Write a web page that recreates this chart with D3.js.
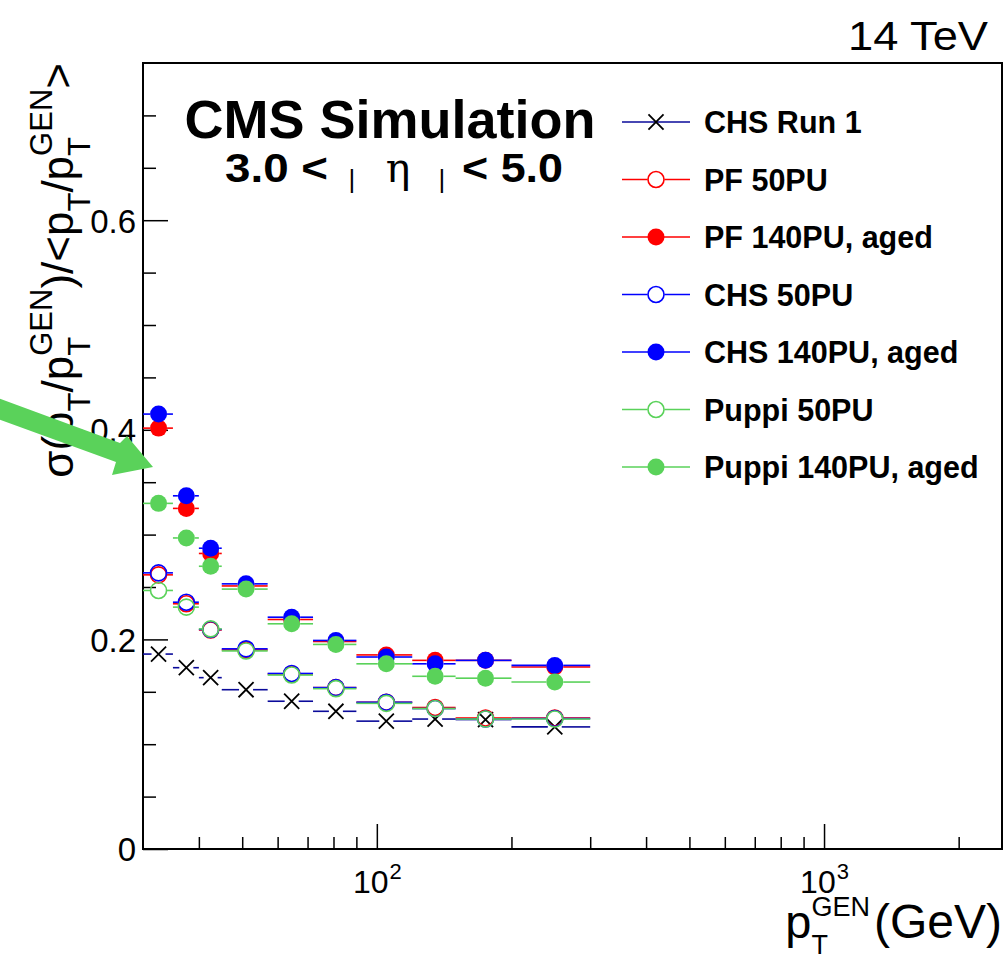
<!DOCTYPE html>
<html>
<head>
<meta charset="utf-8">
<script src="https://cdn.jsdelivr.net/npm/d3@7"></script>
<style>
  body { margin: 0; background: #fff; }
  svg { display: block; font-family: "Liberation Sans", Arial, Helvetica, sans-serif; }
</style>
</head>
<body>
<div id="chart"></div>
<script>
// pT bins (GeV) - markers sit at the bin centre, bars span the bin
const binEdges = [30, 35, 40, 45, 57, 72, 90, 120, 150, 200, 300];

// resolution per bin
const chsRun1  = [0.186, 0.173, 0.1635, 0.152, 0.141, 0.1314, 0.122, 0.124, 0.1235, 0.1165];
const pf50     = [0.2616, 0.234, 0.209, 0.190, 0.167, 0.154, 0.140, 0.135, 0.125, 0.125];
const pf140    = [0.4016, 0.325, 0.282, 0.251, 0.219, 0.198, 0.1852, 0.180, 0.180, 0.1737];
const chs50    = [0.2635, 0.2355, 0.2095, 0.191, 0.1675, 0.154, 0.140, 0.134, 0.124, 0.1245];
const chs140   = [0.415, 0.337, 0.287, 0.253, 0.2212, 0.199, 0.1832, 0.1767, 0.180, 0.1752];
const puppi50  = [0.2467, 0.2308, 0.210, 0.189, 0.166, 0.153, 0.139, 0.134, 0.124, 0.124];
const puppi140 = [0.3298, 0.2968, 0.2698, 0.248, 0.2149, 0.1952, 0.1767, 0.1648, 0.163, 0.1593];

const seriesNames = ['CHS Run 1', 'PF 50PU', 'PF 140PU, aged', 'CHS 50PU', 'CHS 140PU, aged', 'Puppi 50PU', 'Puppi 140PU, aged'];

const yMajorTicks = [0, 0.2, 0.4, 0.6];
const yMinorTicks = [0.05, 0.1, 0.15, 0.25, 0.3, 0.35, 0.45, 0.5, 0.55, 0.65, 0.7];
const xMajorTicks = [100, 1000];
const xMinorTicks = [40, 50, 60, 70, 80, 90, 200, 300, 400, 500, 600, 700, 800, 900, 2000];

const red = '#ff0000', blue = '#0000ff', green = '#5ad25a', navy = '#0a0a9a';

const series = [
    { name: seriesNames[0], values: chsRun1,  color: '#000000', barColor: navy,  marker: 'cross' },
    { name: seriesNames[1], values: pf50,     color: red,   barColor: red,   marker: 'open' },
    { name: seriesNames[2], values: pf140,    color: red,   barColor: red,   marker: 'full' },
    { name: seriesNames[3], values: chs50,    color: blue,  barColor: blue,  marker: 'open' },
    { name: seriesNames[4], values: chs140,   color: blue,  barColor: blue,  marker: 'full' },
    { name: seriesNames[5], values: puppi50,  color: green, barColor: green, marker: 'open' },
    { name: seriesNames[6], values: puppi140, color: green, barColor: green, marker: 'full' }
];

const W = 1007, H = 957;
const margin = { top: 63, right: 5, bottom: 108, left: 143 };
const width = W - margin.left - margin.right;
const height = H - margin.top - margin.bottom;

const svg = d3.select('#chart').append('svg')
    .attr('width', W)
    .attr('height', H);

const plot = svg.append('g')
    .attr('transform', `translate(${margin.left}, ${margin.top})`);

const x = d3.scaleLog().domain([30, 2500]).range([0, width]);
const y = d3.scaleLinear().domain([0, 0.75]).range([height, 0]);

const markerR = 8.5;

// bins as objects
const bins = d3.range(binEdges.length - 1).map(i => ({
    lo: binEdges[i], hi: binEdges[i + 1], c: (binEdges[i] + binEdges[i + 1]) / 2
}));

// Axes (ticks pointing inwards, ROOT style)
const yAxis = plot.append('g')
    .call(d3.axisLeft(y).tickValues(yMajorTicks).tickSizeInner(-25).tickSizeOuter(0).tickPadding(7)
        .tickFormat(d => d === 0 ? '0' : d3.format('.1f')(d)));
yAxis.select('.domain').remove();
yAxis.selectAll('.tick text').attr('font-size', 33).attr('font-family', null).attr('dy', '0.36em');
yAxis.selectAll('.tick line').attr('stroke-width', 1.5);

const yAxisMinor = plot.append('g')
    .call(d3.axisLeft(y).tickValues(yMinorTicks).tickSizeInner(-13).tickSizeOuter(0).tickFormat(''));
yAxisMinor.select('.domain').remove();
yAxisMinor.selectAll('.tick line').attr('stroke-width', 1.5);

const xAxis = plot.append('g')
    .attr('transform', `translate(0, ${height})`)
    .call(d3.axisBottom(x).tickValues(xMajorTicks).tickSizeInner(-25).tickSizeOuter(0).tickFormat(''));
xAxis.select('.domain').remove();
xAxis.selectAll('.tick line').attr('stroke-width', 1.5);
xAxis.selectAll('.tick').append('text')
    .attr('fill', '#000')
    .attr('y', 44)
    .attr('text-anchor', 'middle')
    .attr('font-size', 32)
    .each(function (d) {
        const t = d3.select(this);
        t.append('tspan').text('10');
        t.append('tspan').attr('dy', -14).attr('dx', 1).attr('font-size', 22).text(Math.round(Math.log10(d)));
    });

const xAxisMinor = plot.append('g')
    .attr('transform', `translate(0, ${height})`)
    .call(d3.axisBottom(x).tickValues(xMinorTicks).tickSizeInner(-12).tickSizeOuter(0).tickFormat(''));
xAxisMinor.select('.domain').remove();
xAxisMinor.selectAll('.tick line').attr('stroke-width', 1.5);

// frame
plot.append('rect')
    .attr('width', width).attr('height', height)
    .attr('fill', 'none').attr('stroke', '#000').attr('stroke-width', 2);

// marker drawing helper
function drawMarker(sel, type, color, r) {
    if (type === 'cross') {
        sel.append('path')
            .attr('d', d3.symbol(d3.symbolTimes, 150)())
            .attr('fill', 'none').attr('stroke', color).attr('stroke-width', 1.8);
    } else {
        sel.append('circle')
            .attr('r', type === 'full' ? r : r - 0.5)
            .attr('fill', type === 'full' ? color : 'none')
            .attr('stroke', color)
            .attr('stroke-width', type === 'full' ? 0 : 1.6);
    }
}

// data series
series.forEach(s => {
    const g = plot.append('g').attr('class', 'series');
    const pts = bins.map((b, i) => ({ ...b, v: s.values[i] }));
    const gap = s.marker === 'cross' ? 7 : markerR;

    g.selectAll('.bar-l').data(pts).enter().append('line')
        .attr('x1', d => x(d.lo)).attr('x2', d => Math.max(x(d.lo), x(d.c) - gap))
        .attr('y1', d => y(d.v)).attr('y2', d => y(d.v))
        .attr('stroke', s.barColor).attr('stroke-width', 1.6);
    g.selectAll('.bar-r').data(pts).enter().append('line')
        .attr('x1', d => x(d.c) + gap).attr('x2', d => x(d.hi))
        .attr('y1', d => y(d.v)).attr('y2', d => y(d.v))
        .attr('stroke', s.barColor).attr('stroke-width', 1.6);

    g.selectAll('.pt').data(pts).enter().append('g')
        .attr('transform', d => `translate(${x(d.c)}, ${y(d.v)})`)
        .each(function () { drawMarker(d3.select(this), s.marker, s.color, markerR); });
});

// legend
const legend = svg.append('g').attr('transform', 'translate(622, 122)');
series.forEach((s, i) => {
    const row = legend.append('g').attr('transform', `translate(0, ${i * 57.5})`);
    row.append('line').attr('x1', 0).attr('x2', 68).attr('stroke', s.barColor).attr('stroke-width', 1.6);
    const m = row.append('g').attr('transform', 'translate(34, 0)');
    if (s.marker === 'open') {
        m.append('rect').attr('x', -markerR).attr('y', -markerR).attr('width', 2 * markerR).attr('height', 2 * markerR).attr('fill', '#fff');
    }
    drawMarker(m, s.marker, s.color, markerR);
    row.append('text')
        .attr('x', 82).attr('y', 11)
        .attr('font-size', 30.5).attr('font-weight', 'bold')
        .text(s.name);
});

// lays out text pieces with sub/superscripts, returns the group
function richText(parent, parts, anchor) {
    const g = parent.append('g');
    let cx = 0, prevX = 0;
    parts.forEach(p => {
        const el = g.append('text')
            .attr('font-size', p.size)
            .attr('font-weight', p.weight || 'normal')
            .text(p.t);
        if (p.family) el.attr('font-family', p.family);
        const w = el.node().getComputedTextLength();
        let px;
        if (p.stack) { px = prevX; cx = Math.max(cx, prevX + w); }
        else { px = cx + (p.gap || 0); prevX = px; cx = px + w; }
        el.attr('x', px).attr('y', -(p.shift || 0));
    });
    const off = anchor === 'end' ? -cx : anchor === 'middle' ? -cx / 2 : 0;
    g.attr('transform', `translate(${off}, 0)`);
    return g;
}

// axis titles
const F = 44, S = 31;
const ptRatio = (gen) => {
    const a = [{ t: 'p', size: F }, { t: 'T', size: S, shift: -17 }];
    if (gen) a.push({ t: 'GEN', size: S, shift: 21, stack: true });
    return a;
};
const yTitle = svg.append('g').attr('transform', 'translate(73, 63) rotate(-90)');
richText(yTitle, [
    { t: 'σ(', size: F }, ...ptRatio(false), { t: '/', size: F }, ...ptRatio(true),
    { t: ')/<', size: F }, ...ptRatio(false), { t: '/', size: F }, ...ptRatio(true), { t: '>', size: F }
], 'end');

const xTitle = svg.append('g').attr('transform', 'translate(1002, 938)');
richText(xTitle, [
    { t: 'p', size: 47 }, { t: 'T', size: 27, shift: -16 }, { t: 'GEN', size: 27, shift: 22, stack: true },
    { t: '(GeV)', size: 48, gap: 4 }
], 'end');

// energy label
svg.append('text')
    .attr('x', 988).attr('y', 50)
    .attr('text-anchor', 'end')
    .attr('font-size', 41)
    .attr('textLength', 140).attr('lengthAdjust', 'spacingAndGlyphs')
    .text('14 TeV');

// CMS label
svg.append('text')
    .attr('x', 390).attr('y', 138)
    .attr('text-anchor', 'middle')
    .attr('font-size', 54).attr('font-weight', 'bold')
    .text('CMS Simulation');

const etaLine = svg.append('g').attr('font-size', 40);
etaLine.append('text').attr('x', 225).attr('y', 182).attr('font-weight', 'bold')
    .attr('textLength', 103).attr('lengthAdjust', 'spacingAndGlyphs').text('3.0 <');
etaLine.append('text').attr('x', 352).attr('y', 188).attr('font-size', 26).attr('text-anchor', 'middle').text('|');
etaLine.append('text').attr('x', 398).attr('y', 182).attr('text-anchor', 'middle')
    .attr('font-family', '"DejaVu Serif", "Liberation Serif", serif').attr('font-size', 41).text('η');
etaLine.append('text').attr('x', 442).attr('y', 188).attr('font-size', 26).attr('text-anchor', 'middle').text('|');
etaLine.append('text').attr('x', 462).attr('y', 182).attr('font-weight', 'bold')
    .attr('textLength', 101).attr('lengthAdjust', 'spacingAndGlyphs').text('< 5.0');

// green arrow pointing at the axis
const arrowPts = [[-5, 397], [120, 443], [127, 436], [153, 467], [112, 475], [116, 462], [-5, 418]];
svg.append('path')
    .attr('d', d3.line()(arrowPts) + 'Z')
    .attr('fill', green);
</script>
</body>
</html>
